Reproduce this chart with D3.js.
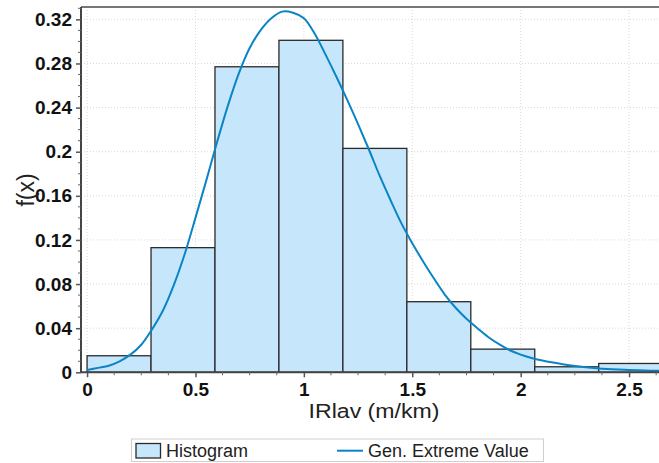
<!DOCTYPE html>
<html>
<head>
<meta charset="utf-8">
<script src="https://cdn.jsdelivr.net/npm/d3@7"></script>
<style>
  html, body { margin: 0; padding: 0; background: #fff; }
  svg { display: block; }
  text { font-family: "Liberation Sans", Arial, sans-serif; }
</style>
</head>
<body>
<svg id="chart" width="659" height="463"></svg>
<script>
// ---- data ----
const binEdges = [0, 0.295, 0.59, 0.885, 1.18, 1.475, 1.77, 2.065, 2.36, 2.655];
const binDensity = [0.015, 0.113, 0.277, 0.301, 0.203, 0.064, 0.021, 0.005, 0.008];

const curveX = [0, 0.05, 0.10, 0.15, 0.20, 0.25, 0.30, 0.35, 0.40, 0.45, 0.50, 0.55, 0.60, 0.65, 0.70, 0.75, 0.80, 0.85, 0.90, 0.95,
                1.00, 1.05, 1.10, 1.15, 1.20, 1.25, 1.30, 1.35, 1.40, 1.45, 1.50, 1.55, 1.60, 1.65, 1.70, 1.75, 1.80, 1.85, 1.90, 1.95,
                2.00, 2.05, 2.10, 2.15, 2.20, 2.25, 2.30, 2.35, 2.40, 2.45, 2.50, 2.55, 2.60, 2.65, 2.70];
const curveY = [0.002, 0.004, 0.006, 0.010, 0.016, 0.025, 0.039, 0.056, 0.079, 0.107, 0.140, 0.174, 0.209, 0.242, 0.271, 0.294, 0.310, 0.321, 0.327, 0.326,
                0.321, 0.307, 0.288, 0.268, 0.247, 0.225, 0.202, 0.178, 0.156, 0.135, 0.117, 0.1005, 0.085, 0.0705, 0.0585, 0.0485, 0.040, 0.032, 0.0255, 0.020,
                0.016, 0.013, 0.0107, 0.0088, 0.0071, 0.0057, 0.0046, 0.0037, 0.0030, 0.0025, 0.0021, 0.0018, 0.0015, 0.0013, 0.0011];

const xTickValues = [0, 0.5, 1, 1.5, 2, 2.5];
const xTickLabels = ["0", "0.5", "1", "1.5", "2", "2.5"];
const yTickValues = [0, 0.04, 0.08, 0.12, 0.16, 0.2, 0.24, 0.28, 0.32];
const yTickLabels = ["0", "0.04", "0.08", "0.12", "0.16", "0.2", "0.24", "0.28", "0.32"];

const xLabel = "IRlav (m/km)";
const yLabel = "f(x)";
const legendLabels = ["Histogram", "Gen. Extreme Value"];

// ---- layout ----
const W = 659, H = 463;
const FONT = "'Liberation Sans', Arial, sans-serif";
const plotLeft = 81, plotTop = 7, plotBottom = 372.3;
const pxPerUnitX = 216.8;
const xDomain = [-0.028, 2.83];
const x = d3.scaleLinear().domain(xDomain).range([plotLeft, plotLeft + (xDomain[1] - xDomain[0]) * pxPerUnitX]);
const y = d3.scaleLinear().domain([0, 0.3312]).range([plotBottom, plotTop]);

const svg = d3.select("#chart");
const plotRight = W + 5;

svg.append("defs").append("clipPath").attr("id", "clip")
  .append("rect").attr("x", plotLeft).attr("y", plotTop).attr("width", plotRight - plotLeft).attr("height", plotBottom - plotTop);

// grid
const grid = svg.append("g");
grid.selectAll("line.gy").data(yTickValues.slice(1)).join("line")
  .attr("x1", plotLeft).attr("x2", plotRight)
  .attr("y1", d => y(d)).attr("y2", d => y(d))
  .attr("stroke", "#d9d9d9").attr("stroke-width", 1).attr("stroke-dasharray", "1,2");
grid.selectAll("line.gx").data(xTickValues).join("line")
  .attr("x1", d => x(d)).attr("x2", d => x(d))
  .attr("y1", plotTop).attr("y2", plotBottom)
  .attr("stroke", "#d9d9d9").attr("stroke-width", 1).attr("stroke-dasharray", "1,2");

// bars
const bars = binDensity.map((v, i) => ({ x0: binEdges[i], x1: binEdges[i + 1], v }));
svg.append("g").attr("clip-path", "url(#clip)")
  .selectAll("rect").data(bars).join("rect")
  .attr("x", d => x(d.x0)).attr("width", d => x(d.x1) - x(d.x0))
  .attr("y", d => y(d.v)).attr("height", d => y(0) - y(d.v))
  .attr("fill", "#c6e6fc").attr("stroke", "#2a2a2a").attr("stroke-width", 1.3);

// curve
const pts = curveX.map((v, i) => [v, curveY[i]]);
svg.append("path").attr("clip-path", "url(#clip)")
  .datum(pts)
  .attr("d", d3.line().x(d => x(d[0])).y(d => y(d[1])).curve(d3.curveCatmullRom.alpha(0.5)))
  .attr("fill", "none").attr("stroke", "#0a84c6").attr("stroke-width", 2);

// top border
svg.append("line").attr("x1", plotLeft).attr("x2", plotRight).attr("y1", plotTop).attr("y2", plotTop)
  .attr("stroke", "#777").attr("stroke-width", 2);

// y axis
const yAxis = svg.append("g").attr("transform", `translate(${plotLeft},0)`)
  .call(d3.axisLeft(y).tickValues(yTickValues).tickFormat((d, i) => yTickLabels[i]).tickSize(5).tickPadding(4));
yAxis.select(".domain").attr("stroke", "#444").attr("stroke-width", 2).attr("d", `M0,${plotTop}V${plotBottom}`);
yAxis.selectAll(".tick line").attr("stroke", "#555").attr("stroke-width", 1.5);
yAxis.selectAll(".tick text").attr("font-size", 19).attr("font-weight", "bold").attr("fill", "#111")
  .attr("font-family", FONT);
const yMinor = d3.range(0, 0.331, 0.01).filter(v => Math.abs(Math.round(v * 25) - v * 25) > 1e-6);
svg.append("g").selectAll("line").data(yMinor).join("line")
  .attr("x1", plotLeft - 3).attr("x2", plotLeft).attr("y1", d => y(d)).attr("y2", d => y(d))
  .attr("stroke", "#666").attr("stroke-width", 1);

// x axis
const xAxis = svg.append("g").attr("transform", `translate(0,${plotBottom})`)
  .call(d3.axisBottom(x).tickValues(xTickValues).tickFormat((d, i) => xTickLabels[i]).tickSize(5).tickPadding(5));
xAxis.select(".domain").attr("stroke", "#444").attr("stroke-width", 2).attr("d", `M${plotLeft},0H${plotRight}`);
xAxis.selectAll(".tick line").attr("stroke", "#555").attr("stroke-width", 1.5);
xAxis.selectAll(".tick text").attr("font-size", 19).attr("font-weight", "bold").attr("fill", "#111")
  .attr("font-family", FONT);
const xMinor = d3.range(0, 2.8, 0.125).filter(v => Math.abs(Math.round(v * 2) - v * 2) > 1e-6);
svg.append("g").selectAll("line").data(xMinor).join("line")
  .attr("x1", d => x(d)).attr("x2", d => x(d)).attr("y1", plotBottom).attr("y2", plotBottom + 3)
  .attr("stroke", "#666").attr("stroke-width", 1);

// axis labels
svg.append("text").attr("transform", "translate(374,418) scale(1.1,1)").attr("text-anchor", "middle")
  .attr("font-family", FONT).attr("font-size", 21).attr("fill", "#222").text(xLabel);
svg.append("text").attr("transform", "translate(34,190) rotate(-90)").attr("text-anchor", "middle")
  .attr("font-family", FONT).attr("font-size", 23).attr("fill", "#222").text(yLabel);

// legend
const lg = svg.append("g");
lg.append("rect").attr("x", 131.5).attr("y", 439).attr("width", 412).attr("height", 22.5)
  .attr("fill", "#fff").attr("stroke", "#cfcfcf").attr("stroke-width", 1);
lg.append("rect").attr("x", 136).attr("y", 443.5).attr("width", 24.5).attr("height", 14.5)
  .attr("fill", "#c6e6fc").attr("stroke", "#2a2a2a").attr("stroke-width", 1.3);
lg.append("text").attr("x", 166).attr("y", 457).attr("font-family", FONT).attr("font-size", 18).attr("fill", "#222").text(legendLabels[0]);
lg.append("line").attr("x1", 337).attr("x2", 363).attr("y1", 450.7).attr("y2", 450.7)
  .attr("stroke", "#0a84c6").attr("stroke-width", 2);
lg.append("text").attr("x", 368).attr("y", 457).attr("font-family", FONT).attr("font-size", 18).attr("fill", "#222").text(legendLabels[1]);
</script>
</body>
</html>
